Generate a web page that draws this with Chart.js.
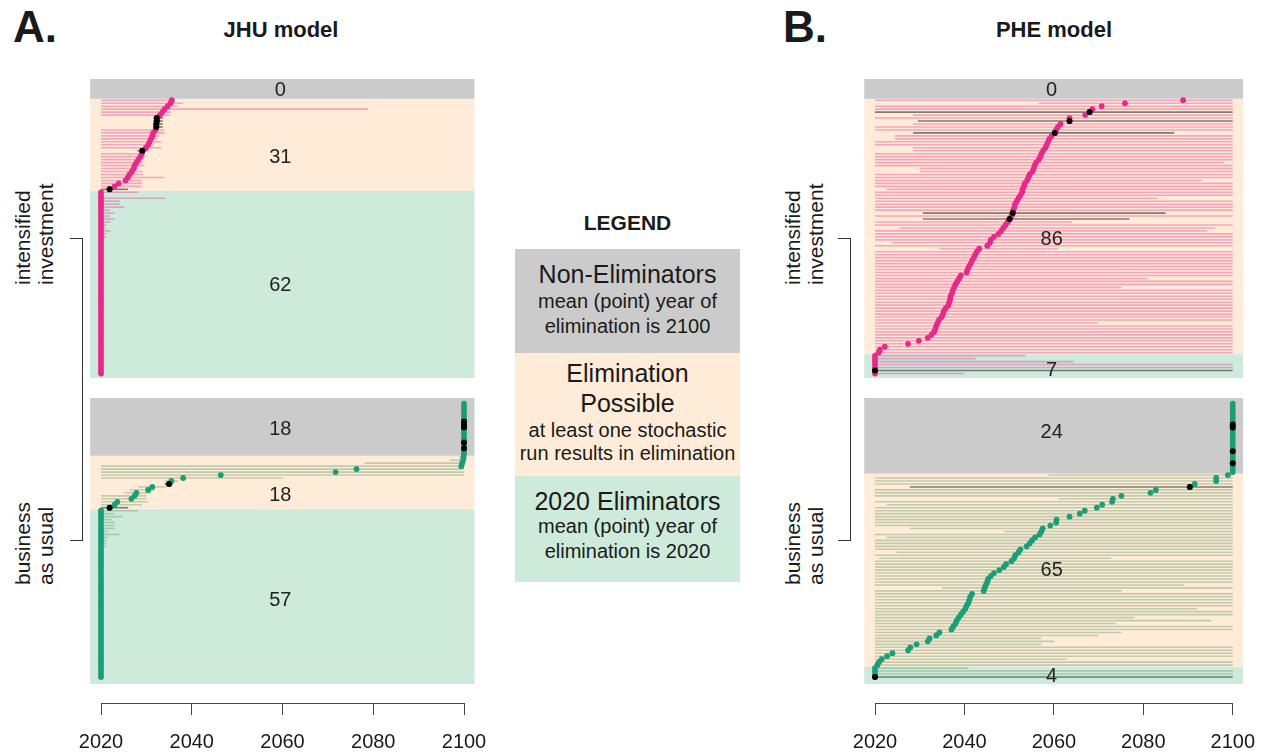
<!DOCTYPE html>
<html>
<head>
<meta charset="utf-8">
<title>Elimination year by scenario</title>
<script src="https://cdn.jsdelivr.net/npm/chart.js@4.4.1/dist/chart.umd.min.js"></script>
<style>
  html, body { margin: 0; padding: 0; background: #fff; }
  body { position: relative; width: 1270px; height: 753px; overflow: hidden;
         font-family: "Liberation Sans", Arial, Helvetica, sans-serif; color: #1a1a1a; }
  canvas { position: absolute; }
  #chartA { left: 60px; top: 60px; }
  #chartB { left: 830px; top: 60px; }
  .txt { position: absolute; white-space: nowrap; line-height: 1; }
  .bracket { position: absolute; box-sizing: border-box; border: 1px solid #333; border-left: none; }
  .key { position: absolute; left: 515px; width: 225px; }
</style>
</head>
<body>
<canvas id="chartA" width="450" height="693"></canvas>
<canvas id="chartB" width="440" height="693"></canvas>
<div class="bracket" style="left:70px;top:238px;width:13px;height:303px"></div>
<div class="bracket" style="left:838px;top:238px;width:13px;height:303px"></div>
<div class="key" style="top:249px;height:104px;background:#cbcbcb"></div>
<div class="key" style="top:353px;height:123px;background:#feecd9"></div>
<div class="key" style="top:476px;height:106px;background:#cdeadb"></div>
<script>
// year axis
var years = [2020, 2040, 2060, 2080, 2100];

// countries per class: [2020 eliminators, elimination possible, non-eliminators]
var jhuIntCounts = [62, 31, 0];
var jhuBauCounts = [57, 18, 18];
var pheIntCounts = [7, 86, 0];
var pheBauCounts = [4, 65, 24];

// JHU model, intensified investment (rows sorted, bottom row first)
var jhuIntMean = [
  2020, 2020, 2020, 2020, 2020, 2020, 2020, 2020, 2020, 2020,
  2020, 2020, 2020, 2020, 2020, 2020, 2020, 2020, 2020, 2020,
  2020, 2020, 2020, 2020, 2020, 2020, 2020, 2020, 2020, 2020,
  2020, 2020, 2020, 2020, 2020, 2020, 2020, 2020, 2020, 2020,
  2020, 2020, 2020, 2020, 2020, 2020, 2020, 2020, 2020, 2020,
  2020, 2020, 2020, 2020, 2020, 2020, 2020, 2020, 2020, 2020,
  2020, 2020, 2021.9, 2023.0, 2023.9, 2025.4, 2025.9, 2026.3, 2026.8, 2027.2,
  2027.4, 2027.8, 2028.2, 2028.7, 2029.0, 2029.1, 2029.9, 2030.4, 2030.7, 2031.0,
  2031.3, 2031.5, 2032.0, 2032.2, 2032.2, 2032.3, 2032.3, 2033.0, 2033.5, 2034.0,
  2034.7, 2035.3, 2035.6
];
var jhuIntLo = [
  2020, 2020, 2020, 2020, 2020, 2020, 2020, 2020, 2020, 2020,
  2020, 2020, 2020, 2020, 2020, 2020, 2020, 2020, 2020, 2020,
  2020, 2020, 2020, 2020, 2020, 2020, 2020, 2020, 2020, 2020,
  2020, 2020, 2020, 2020, 2020, 2020, 2020, 2020, 2020, 2020,
  2020, 2020, 2020, 2020, 2020, 2020, 2020, 2020, 2020, 2020,
  2020, 2020, 2020, 2020, 2020, 2020, 2020, 2020, 2020, 2020,
  2020, 2020, 2020, 2020, 2020, 2020, 2020, 2020, 2020, 2020,
  2020, 2020, 2020, 2020, 2020, 2028.0, 2020, 2020, 2020, 2020,
  2020, 2020, 2020, 2031.5, 2031.5, 2031.5, 2031.5, 2020, 2020, 2020,
  2020, 2020, 2020
];
var jhuIntHi = [
  2020, 2020, 2020, 2020, 2020, 2020, 2020, 2020, 2020, 2020,
  2020, 2020, 2020, 2020, 2020, 2020, 2020, 2020, 2020, 2020,
  2020, 2020, 2020, 2020, 2020, 2020, 2020, 2020, 2020, 2020,
  2020, 2020, 2020, 2020, 2020, 2020, 2020, 2020, 2020, 2020,
  2020, 2020, 2020, 2020, 2020, 2020, 2021.2, 2021.2, 2022.1, 2021.0,
  2021.2, 2022.1, 2023.0, 2021.9, 2023.0, 2021.9, 2025.1, 2024.1, 2024.1, 2034.1,
  2020, 2028.2, 2026.0, 2028.9, 2029.2, 2028.9, 2034.0, 2029.2, 2029.2, 2028.2,
  2029.6, 2029.2, 2028.9, 2029.2, 2029.2, 2030.3, 2033.3, 2031.5, 2033.3, 2032.4,
  2032.9, 2034.0, 2034.0, 2033.6, 2033.6, 2033.6, 2033.6, 2035.1, 2035.5, 2078.9,
  2036.9, 2038.1, 2036.2
];
var jhuIntMarked = [63, 76, 84, 85, 86, 87];

// JHU model, business as usual
var jhuBauMean = [
  2020, 2020, 2020, 2020, 2020, 2020, 2020, 2020, 2020, 2020,
  2020, 2020, 2020, 2020, 2020, 2020, 2020, 2020, 2020, 2020,
  2020, 2020, 2020, 2020, 2020, 2020, 2020, 2020, 2020, 2020,
  2020, 2020, 2020, 2020, 2020, 2020, 2020, 2020, 2020, 2020,
  2020, 2020, 2020, 2020, 2020, 2020, 2020, 2020, 2020, 2020,
  2020, 2020, 2020, 2020, 2020, 2020, 2020, 2021.9, 2023.0, 2023.6,
  2026.7, 2027.4, 2027.8, 2030.4, 2031.3, 2035.0, 2035.5, 2038.1, 2046.4, 2071.7,
  2076.3, 2099.4, 2099.6, 2099.8, 2099.9, 2100, 2100, 2100, 2100, 2100,
  2100, 2100, 2100, 2100, 2100, 2100, 2100, 2100, 2100, 2100,
  2100, 2100, 2100
];
var jhuBauLo = [
  2020, 2020, 2020, 2020, 2020, 2020, 2020, 2020, 2020, 2020,
  2020, 2020, 2020, 2020, 2020, 2020, 2020, 2020, 2020, 2020,
  2020, 2020, 2020, 2020, 2020, 2020, 2020, 2020, 2020, 2020,
  2020, 2020, 2020, 2020, 2020, 2020, 2020, 2020, 2020, 2020,
  2020, 2020, 2020, 2020, 2020, 2020, 2020, 2020, 2020, 2020,
  2020, 2020, 2020, 2020, 2020, 2020, 2020, 2020, 2020, 2020,
  2020, 2020, 2025.2, 2026.3, 2028.2, 2034.0, 2034.0, 2020, 2020, 2020,
  2020, 2020, 2078.1, 2096.9, 2099.0, 2100, 2100, 2100, 2100, 2100,
  2100, 2100, 2100, 2100, 2100, 2100, 2100, 2100, 2100, 2100,
  2100, 2100, 2100
];
var jhuBauHi = [
  2020, 2020, 2020, 2020, 2020, 2020, 2020, 2020, 2020, 2020,
  2020, 2020, 2020, 2020, 2020, 2020, 2020, 2020, 2020, 2020,
  2020, 2020, 2020, 2020, 2020, 2020, 2020, 2020, 2020, 2020,
  2020, 2020, 2020, 2020, 2020, 2020, 2020, 2020, 2020, 2020,
  2020, 2020, 2020, 2020, 2021.2, 2021.2, 2021.2, 2021.5, 2024.1, 2021.5,
  2023.0, 2023.0, 2023.0, 2022.3, 2024.8, 2023.0, 2028.2, 2026.0, 2029.0, 2030.4,
  2030.0, 2030.0, 2031.0, 2031.8, 2034.4, 2035.9, 2037.0, 2060.1, 2100, 2100,
  2100, 2100, 2100, 2100, 2100, 2100, 2100, 2100, 2100, 2100,
  2100, 2100, 2100, 2100, 2100, 2100, 2100, 2100, 2100, 2100,
  2100, 2100, 2100
];
var jhuBauMarked = [58, 66, 78, 80, 85, 86, 87];

// PHE model, intensified investment
var pheIntMean = [
  2020, 2020, 2020, 2020, 2020, 2020, 2020, 2020.8, 2021.1, 2022.2,
  2027.4, 2029.8, 2031.8, 2032.6, 2033.2, 2033.5, 2033.7, 2034.0, 2034.3, 2034.9,
  2035.2, 2035.4, 2035.8, 2036.4, 2036.6, 2036.8, 2036.9, 2037.2, 2037.4, 2037.7,
  2038.0, 2038.4, 2038.8, 2039.2, 2040.5, 2040.7, 2041.0, 2041.4, 2041.7, 2042.1,
  2042.4, 2042.8, 2043.3, 2045.1, 2045.7, 2045.9, 2046.6, 2047.6, 2048.2, 2048.7,
  2049.2, 2049.7, 2050.1, 2050.5, 2050.8, 2050.9, 2051.2, 2051.3, 2051.7, 2052.1,
  2052.5, 2052.9, 2053.0, 2053.3, 2053.5, 2054.0, 2054.3, 2054.6, 2055.2, 2055.5,
  2055.7, 2056.0, 2056.6, 2057.0, 2057.2, 2057.6, 2058.1, 2058.4, 2058.7, 2059.0,
  2059.5, 2060.2, 2060.5, 2060.9, 2061.5, 2063.5, 2063.5, 2067.0, 2068.0, 2068.6,
  2070.7, 2075.9, 2088.9
];
var pheIntLo = [
  2020, 2020, 2020, 2020, 2020, 2020, 2020, 2020, 2020, 2020,
  2020, 2020, 2020, 2020, 2020, 2020, 2020, 2020, 2020, 2020,
  2020, 2020, 2020, 2020, 2020, 2020, 2020, 2020, 2020, 2020,
  2020, 2020, 2020, 2020, 2020, 2020, 2020, 2020, 2020, 2020,
  2020, 2020, 2034.4, 2020, 2023.7, 2020, 2020, 2020, 2020, 2025.5,
  2020, 2020, 2030.7, 2020, 2030.7, 2020, 2020, 2020, 2020, 2020,
  2020, 2020, 2022.6, 2020, 2020, 2020, 2020, 2020, 2030.0, 2030.0,
  2020, 2020, 2020, 2020, 2020, 2028.5, 2028.5, 2020, 2020, 2024.4,
  2024.4, 2028.5, 2020, 2020, 2028.5, 2029.6, 2020, 2028.5, 2020, 2020,
  2020, 2056.6, 2020
];
var pheIntHi = [
  2039.9, 2100, 2100, 2100, 2064.4, 2042.5, 2053.6, 2100, 2100, 2100,
  2100, 2100, 2100, 2100, 2100, 2100, 2100, 2069.9, 2100, 2100,
  2100, 2100, 2100, 2100, 2100, 2100, 2100, 2100, 2100, 2075.1,
  2100, 2100, 2081.0, 2100, 2100, 2100, 2100, 2100, 2100, 2100,
  2100, 2100, 2061.0, 2100, 2100, 2100, 2100, 2100, 2094.3, 2096.1,
  2100, 2064.0, 2076.9, 2100, 2085.0, 2100, 2100, 2100, 2100, 2083.2,
  2100, 2100, 2100, 2100, 2100, 2093.2, 2100, 2100, 2100, 2100,
  2100, 2098.0, 2100, 2100, 2100, 2100, 2100, 2100, 2100, 2100,
  2100, 2086.9, 2100, 2100, 2100, 2100, 2100, 2100, 2100, 2100,
  2100, 2100, 2100
];
var pheIntMarked = [2, 53, 55, 82, 86, 89];

// PHE model, business as usual
var pheBauMean = [
  2020, 2020, 2020, 2020, 2020.5, 2020.9, 2021.5, 2022.7, 2023.9, 2027.4,
  2027.9, 2029.3, 2031.8, 2032.2, 2033.7, 2034.4, 2037.1, 2037.5, 2038.0, 2038.3,
  2038.7, 2039.2, 2039.7, 2040.2, 2040.5, 2040.9, 2041.1, 2041.3, 2041.7, 2044.3,
  2044.5, 2044.8, 2045.1, 2045.3, 2045.9, 2046.6, 2047.8, 2048.8, 2049.3, 2050.5,
  2051.1, 2051.4, 2052.1, 2052.5, 2053.9, 2054.6, 2055.1, 2055.8, 2056.8, 2057.2,
  2057.5, 2059.2, 2060.5, 2060.6, 2063.5, 2065.8, 2066.9, 2069.6, 2070.8, 2073.0,
  2073.2, 2075.1, 2081.6, 2082.8, 2090.4, 2091.5, 2096.3, 2096.3, 2098.9, 2100,
  2100, 2100, 2100, 2100, 2100, 2100, 2100, 2100, 2100, 2100,
  2100, 2100, 2100, 2100, 2100, 2100, 2100, 2100, 2100, 2100,
  2100, 2100, 2100
];
var pheBauLo = [
  2020, 2020, 2020, 2020, 2020, 2020, 2020, 2020, 2020, 2020,
  2020, 2020, 2020, 2020, 2020, 2020, 2020, 2020, 2020, 2020,
  2020, 2020, 2020, 2020, 2020, 2020, 2020, 2020, 2020, 2020,
  2035.0, 2020, 2020, 2020, 2020, 2020, 2020, 2020, 2020, 2020,
  2021.0, 2020, 2024.8, 2020, 2020, 2020, 2020, 2022.6, 2020, 2048.8,
  2027.8, 2020, 2020, 2020, 2020, 2020, 2020, 2020, 2022.6, 2020,
  2061.0, 2020, 2020, 2020, 2027.8, 2020, 2020, 2020, 2058.8, 2100,
  2100, 2100, 2100, 2100, 2100, 2100, 2100, 2100, 2100, 2100,
  2100, 2100, 2100, 2100, 2100, 2100, 2100, 2100, 2100, 2100,
  2100, 2100, 2100
];
var pheBauHi = [
  2100, 2100, 2100, 2040.9, 2100, 2100, 2062.9, 2100, 2100, 2100,
  2100, 2057.2, 2060.1, 2057.2, 2069.9, 2075.1, 2100, 2100, 2073.9, 2095.2,
  2078.0, 2100, 2100, 2092.0, 2100, 2100, 2100, 2100, 2100, 2075.1,
  2100, 2089.1, 2100, 2100, 2100, 2100, 2100, 2100, 2100, 2100,
  2072.8, 2100, 2100, 2100, 2100, 2100, 2100, 2100, 2100, 2100,
  2100, 2100, 2100, 2100, 2100, 2100, 2100, 2100, 2100, 2100,
  2100, 2100, 2100, 2100, 2100, 2100, 2100, 2100, 2100, 2100,
  2100, 2100, 2100, 2100, 2100, 2100, 2100, 2100, 2100, 2100,
  2100, 2100, 2100, 2100, 2100, 2100, 2100, 2100, 2100, 2100,
  2100, 2100, 2100
];
var pheBauMarked = [1, 65, 73, 77, 85, 86];

/* layout of the stacked blocks, in row units */
var Y_MIN = -7.75, Y_MAX = 202.35;
var UPPER_SHIFT = 102.2;
var LOWER_FRAME = [-1.35, 94.94];
var UPPER_FRAME = [101.68, 202.35];
var X_FRAME = [2017.6, 2102.3];
var BAND_COLORS = ['#cdeadb', '#feecd9', '#cbcbcb'];
var PINK = '#e7298a', TEAL = '#1b9e77';
var PINK_LINE = 'rgba(231,41,138,0.36)', TEAL_LINE = 'rgba(95,150,100,0.38)', MARK_LINE = 'rgba(45,45,45,0.6)';
var FONT = '"Liberation Sans", Arial, Helvetica, sans-serif';

function bandEdges(b) {
  var c1 = b.shift + b.counts[0] + 0.5, c2 = c1 + b.counts[1];
  return [[b.frame[0], c1], [c1, c2], [c2, b.frame[1]]];
}

function bandPlugin(blocks) {
  return {
    id: 'bands',
    beforeDatasetsDraw: function (chart) {
      var ctx = chart.ctx, x = chart.scales.x, y = chart.scales.y;
      var x0 = x.getPixelForValue(X_FRAME[0]), x1 = x.getPixelForValue(X_FRAME[1]);
      ctx.save();
      blocks.forEach(function (b) {
        bandEdges(b).forEach(function (e, j) {
          var top = y.getPixelForValue(e[1]), bot = y.getPixelForValue(e[0]);
          ctx.fillStyle = BAND_COLORS[j];
          ctx.fillRect(x0, top, x1 - x0, bot - top);
        });
      });
      ctx.restore();
    },
    afterDatasetsDraw: function (chart) {
      var ctx = chart.ctx, x = chart.scales.x, y = chart.scales.y;
      var cx = (x.getPixelForValue(X_FRAME[0]) + x.getPixelForValue(X_FRAME[1])) / 2 - 2;
      ctx.save();
      ctx.font = '20px ' + FONT;
      ctx.fillStyle = '#222';
      ctx.textAlign = 'center';
      ctx.textBaseline = 'alphabetic';
      blocks.forEach(function (b) {
        bandEdges(b).forEach(function (e, j) {
          var mid = (y.getPixelForValue(e[0]) + y.getPixelForValue(e[1])) / 2 + b.nudge[j];
          ctx.fillText(String(b.counts[j]), cx, mid + 7);
        });
      });
      ctx.restore();
    }
  };
}

function blockDatasets(b) {
  var sets = [];
  var rowY = function (r) { return r + b.shift; };
  sets.push({
    data: b.marked.map(function (r) { return { x: b.mean[r - 1], y: rowY(r) }; }),
    pointRadius: 3, backgroundColor: '#000', borderColor: '#000', borderWidth: 0,
    order: 0, clip: false
  });
  sets.push({
    data: b.mean.map(function (m, i) { return { x: m, y: rowY(i + 1) }; }),
    pointRadius: 2.9, backgroundColor: b.dot, borderColor: b.dot, borderWidth: 0,
    order: 1, clip: false
  });
  b.mean.forEach(function (m, i) {
    if (b.hi[i] <= b.lo[i]) return;
    var marked = b.marked.indexOf(i + 1) >= 0;
    sets.push({
      data: [{ x: b.lo[i], y: rowY(i + 1) }, { x: b.hi[i], y: rowY(i + 1) }],
      showLine: true, pointRadius: 0, borderWidth: 1.6,
      borderColor: marked ? MARK_LINE : b.line,
      order: 2, clip: false
    });
  });
  return sets;
}

function drawPanel(id, blocks, pad) {
  var datasets = [];
  blocks.forEach(function (b) { datasets = datasets.concat(blockDatasets(b)); });
  new Chart(document.getElementById(id), {
    type: 'scatter',
    data: { datasets: datasets },
    options: {
      responsive: false,
      animation: false,
      devicePixelRatio: 1,
      layout: { padding: pad },
      plugins: { legend: { display: false }, tooltip: { enabled: false } },
      scales: {
        x: {
          type: 'linear', min: 2020, max: 2100,
          afterBuildTicks: function (s) { s.ticks = years.map(function (v) { return { value: v }; }); },
          afterFit: function (s) { s.height = 50; },
          grid: { drawOnChartArea: false, drawTicks: true, tickLength: 12, color: '#444', lineWidth: 1 },
          border: { display: true, color: '#444', width: 1 },
          ticks: {
            autoSkip: false, maxRotation: 0, padding: 15, color: '#1a1a1a',
            font: { size: 20, family: FONT },
            callback: function (v) { return String(v); }
          }
        },
        y: { type: 'linear', min: Y_MIN, max: Y_MAX, display: false }
      }
    },
    plugins: [bandPlugin(blocks)]
  });
}

drawPanel('chartA', [
  { mean: jhuIntMean, lo: jhuIntLo, hi: jhuIntHi, marked: jhuIntMarked, counts: jhuIntCounts,
    shift: UPPER_SHIFT, frame: UPPER_FRAME, dot: PINK, line: PINK_LINE, nudge: [0, 11, 0] },
  { mean: jhuBauMean, lo: jhuBauLo, hi: jhuBauHi, marked: jhuBauMarked, counts: jhuBauCounts,
    shift: 0, frame: LOWER_FRAME, dot: TEAL, line: TEAL_LINE, nudge: [2, 12, 1] }
], { left: 41, right: 46, top: 19, bottom: 0 });

drawPanel('chartB', [
  { mean: pheIntMean, lo: pheIntLo, hi: pheIntHi, marked: pheIntMarked, counts: pheIntCounts,
    shift: UPPER_SHIFT, frame: UPPER_FRAME, dot: PINK, line: PINK_LINE, nudge: [3, 12, 0] },
  { mean: pheBauMean, lo: pheBauLo, hi: pheBauHi, marked: pheBauMarked, counts: pheBauCounts,
    shift: 0, frame: LOWER_FRAME, dot: TEAL, line: TEAL_LINE, nudge: [0, -1, -5] }
], { left: 45, right: 34, top: 19, bottom: 0 });

/* titles, scenario labels and the key */
function put(text, x, base, size, opt) {
  opt = opt || {};
  var d = document.createElement('div');
  d.className = 'txt';
  d.textContent = text;
  d.style.fontSize = size + 'px';
  if (opt.bold) d.style.fontWeight = 'bold';
  if (opt.rotate) {
    // reads bottom to top; x is the baseline, base is where the text starts
    d.style.left = (x - 0.8465 * size) + 'px';
    d.style.top = base + 'px';
    d.style.transformOrigin = '0 0';
    d.style.transform = 'rotate(-90deg)';
  } else {
    d.style.left = x + 'px';
    d.style.top = (base - 0.8465 * size) + 'px';
    if (opt.center) d.style.transform = 'translateX(-50%)';
  }
  document.body.appendChild(d);
}

put('A.', 13, 42, 44, { bold: true });
put('B.', 783, 42, 44, { bold: true });
put('JHU model', 281, 38, 22, { bold: true, center: true });
put('PHE model', 1054, 38, 22, { bold: true, center: true });

put('intensified', 30, 285, 21, { rotate: true });
put('investment', 53, 285, 21, { rotate: true });
put('business', 30, 585, 21, { rotate: true });
put('as usual', 53, 585, 21, { rotate: true });
put('intensified', 800, 285, 21, { rotate: true });
put('investment', 823, 285, 21, { rotate: true });
put('business', 800, 585, 21, { rotate: true });
put('as usual', 823, 585, 21, { rotate: true });

put('LEGEND', 627.5, 230, 21, { bold: true, center: true });
put('Non-Eliminators', 627.5, 283, 25, { center: true });
put('mean (point) year of', 627.5, 308, 20, { center: true });
put('elimination is 2100', 627.5, 333, 20, { center: true });
put('Elimination', 627.5, 382, 25, { center: true });
put('Possible', 627.5, 412, 25, { center: true });
put('at least one stochastic', 627.5, 437, 20, { center: true });
put('run results in elimination', 627.5, 460, 20, { center: true });
put('2020 Eliminators', 627.5, 510, 25, { center: true });
put('mean (point) year of', 627.5, 533, 20, { center: true });
put('elimination is 2020', 627.5, 558, 20, { center: true });
</script>
</body>
</html>
